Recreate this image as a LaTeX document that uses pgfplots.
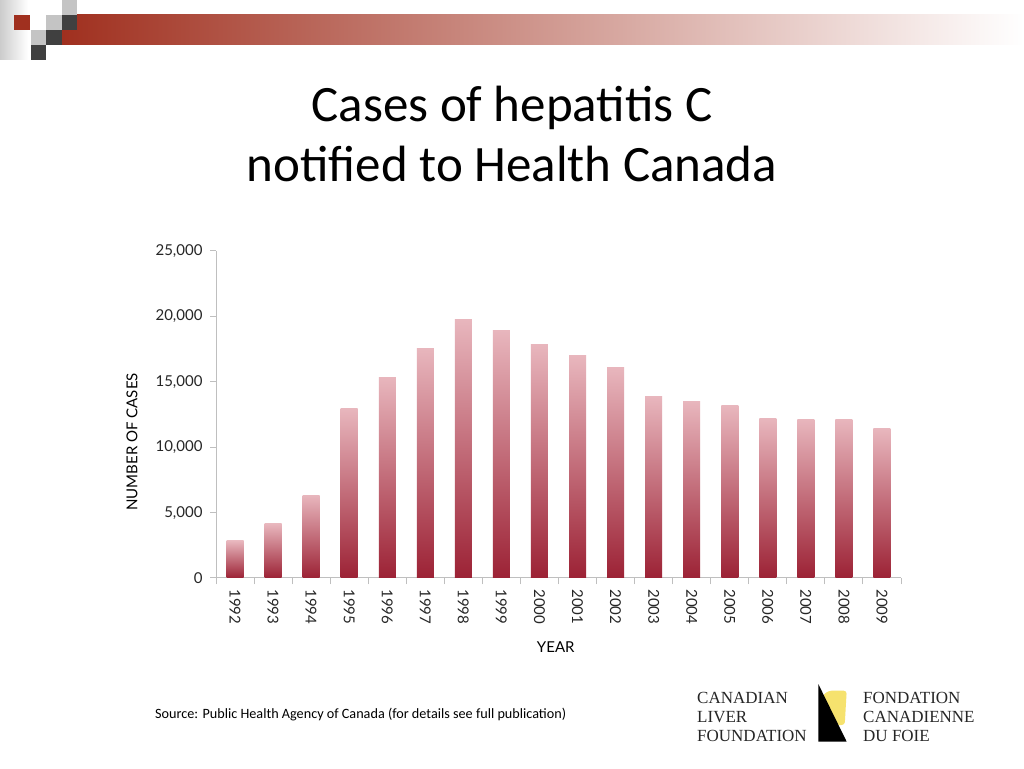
\documentclass[border=0pt]{standalone}
\usepackage{pgfplots}
\pgfplotsset{compat=1.18}
\usepackage{fontspec}
\setmainfont{Carlito}
\newfontfamily\gill{Lato}
\newfontfamily\logofont{Liberation Serif}
\definecolor{hdrred}{HTML}{A0301F}
\definecolor{hdrmid}{HTML}{C49A9C}
\definecolor{dgray}{HTML}{404040}
\definecolor{lgray}{HTML}{C4C4C4}
\definecolor{bartop}{HTML}{E8B6BD}
\definecolor{barbot}{HTML}{9C2235}
\definecolor{axgray}{HTML}{BFBFBF}
\definecolor{logoyel}{HTML}{F6E26E}
\pgfplotsset{barsty/.style={ybar, bar shift=0pt, bar width=17pt, draw=none, top color=bartop, bottom color=barbot}}
\begin{document}
\begin{tikzpicture}[x=1pt,y=1pt]
\path[fill=white] (0,0) rectangle (1024,768);
% header decoration
\shade[left color=gray!40, right color=white] (0,708) rectangle (28,768);
\shade[left color=hdrred, middle color=hdrmid, right color=white] (62,723) rectangle (1024,753);
\fill[hdrred] (14,738) rectangle (30,753);
\fill[lgray] (62,753) rectangle (77,768);
\fill[lgray] (46,738) rectangle (62,753);
\fill[dgray] (62,738) rectangle (77,753);
\fill[lgray] (31,723) rectangle (46,738);
\fill[dgray] (46,723) rectangle (62,738);
\fill[dgray] (31,708) rectangle (46,723);
% title
\node[anchor=base, inner sep=0pt, font=\fontsize{51}{60}\selectfont] at (512,646) {Cases of hepatitis C};
\node[anchor=base, inner sep=0pt, font=\fontsize{51}{60}\selectfont] at (512,586) {notified to Health Canada};
% chart
\begin{axis}[
  at={(216pt,190pt)}, anchor=south west,
  scale only axis, width=685pt, height=327pt,
  xmin=-0.5, xmax=17.5, ymin=0, ymax=25000,
  axis x line*=bottom, axis y line*=left,
  axis line style={draw=axgray, line width=1pt, -},
  ytick={0,5000,10000,15000,20000,25000},
  scaled y ticks=false,
  tick label style={font=\gill\fontsize{15}{15}\selectfont, text=black!85},
  yticklabel style={xshift=-4pt, /pgf/number format/.cd, 1000 sep={,}, assume math mode=true},
  ytick style={draw=axgray, line width=1pt},
  tick align=outside, major tick length=6pt,
  xtick={-0.5,0.5,...,17.5}, xticklabels={},
  xtick style={draw=axgray, line width=1pt},
  extra x ticks={0,1,...,17},
  extra x tick labels={1992,1993,1994,1995,1996,1997,1998,1999,2000,2001,2002,2003,2004,2005,2006,2007,2008,2009},
  extra x tick style={major tick length=0pt, tick style={draw=none},
     ticklabel style={yshift=-8pt, rotate=-90, anchor=west}},
  xlabel={YEAR}, ylabel={NUMBER OF CASES},
  xlabel style={font=\gill\fontsize{15}{15}\selectfont, at={(axis description cs:0.496,-0.211)}, anchor=center},
  ylabel style={font=\gill\fontsize{15}{15}\selectfont, at={(axis description cs:-0.1226,0.416)}, anchor=center},
  clip=false,
]
\addplot[barsty] coordinates {(0,2830)};
\addplot[barsty] coordinates {(1,4130)};
\addplot[barsty] coordinates {(2,6330)};
\addplot[barsty] coordinates {(3,12950)};
\addplot[barsty] coordinates {(4,15350)};
\addplot[barsty] coordinates {(5,17550)};
\addplot[barsty] coordinates {(6,19750)};
\addplot[barsty] coordinates {(7,18930)};
\addplot[barsty] coordinates {(8,17880)};
\addplot[barsty] coordinates {(9,16980)};
\addplot[barsty] coordinates {(10,16080)};
\addplot[barsty] coordinates {(11,13860)};
\addplot[barsty] coordinates {(12,13480)};
\addplot[barsty] coordinates {(13,13150)};
\addplot[barsty] coordinates {(14,12200)};
\addplot[barsty] coordinates {(15,12150)};
\addplot[barsty] coordinates {(16,12150)};
\addplot[barsty] coordinates {(17,11400)};
\end{axis}
% source
\node[anchor=base west, inner sep=0pt, font=\fontsize{14.2}{16}\selectfont] at (155,50) {Source: Public Health Agency of Canada (for details see full publication)};
% logo
\fill[logoyel, rounded corners=3pt] (828.7,77.3) -- (846.7,77.3) -- (844.7,43) -- (834,43) -- (822,72) -- cycle;
\fill[black] (818.3,84) -- (818.3,26.3) -- (846.7,26.3) -- cycle;
\begin{scope}[font=\logofont\fontsize{17}{19}\selectfont, text=black!85]
\node[anchor=base west, inner sep=0pt] at (697,64.7) {CANADIAN};
\node[anchor=base west, inner sep=0pt] at (697,45.7) {LIVER};
\node[anchor=base west, inner sep=0pt] at (697,27) {FOUNDATION};
\node[anchor=base west, inner sep=0pt] at (863,64.7) {FONDATION};
\node[anchor=base west, inner sep=0pt] at (863,45.7) {CANADIENNE};
\node[anchor=base west, inner sep=0pt] at (863,27) {DU FOIE};
\end{scope}
\end{tikzpicture}
\end{document}
